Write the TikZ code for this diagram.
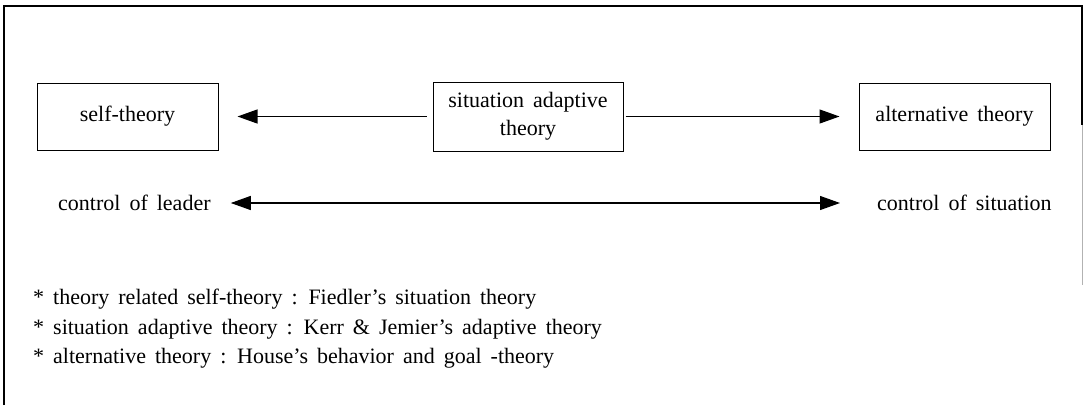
\documentclass[tikz,border=0pt]{standalone}
\usepackage{fontspec}
\setmainfont{Liberation Serif}
\usetikzlibrary{arrows.meta}
\newcommand{\mytxtfont}{\fontsize{22}{28}\selectfont\spaceskip=9pt plus 2pt minus 1pt\relax}
\begin{document}
\begin{tikzpicture}[x=1pt,y=-1pt,
  txt/.style={font=\mytxtfont, inner sep=0pt},
  tbox/.style={txt, draw, line width=1pt},
  conn/.style={line width=1.2pt, -{Triangle[length=20pt,width=14pt]}},
  biconn/.style={line width=1.2pt, {Triangle[length=20pt,width=14pt]}-{Triangle[length=20pt,width=14pt]}},
  note/.style={txt, anchor=base west}
  ]
\useasboundingbox (0,0) rectangle (1084,405);
\draw[line width=1.2pt] (4,405) -- (4,6) -- (1082,6) -- (1082,125);
\draw[gray!60, line width=0.8pt] (1082,125) -- (1082,285);
\node[tbox, minimum width=181pt, minimum height=67pt] (self) at (127.5,116.5) {self-theory};
\node[tbox, minimum width=190pt, minimum height=69pt, align=center] (sit) at (528,116.5) {situation adaptive\\theory};
\node[tbox, minimum width=191pt, minimum height=67pt] (alt) at (954.5,116.5) {alternative theory};
\draw[conn, shorten <=6pt, shorten >=19pt] (sit.west) -- (self.east);
\draw[conn, shorten <=2pt, shorten >=19pt] (sit.east) -- (alt.west);
\node[txt, anchor=west] (cl) at (58,203) {control of leader};
\node[txt, anchor=west] (cs) at (877,203) {control of situation};
\draw[biconn, shorten <=20pt, shorten >=37pt] (cl.east) -- (cs.west);
\node[note] (n1) at (33,304) {* theory related self-theory : Fiedler’s situation theory};
\node[note] (n2) at (33,334) {* situation adaptive theory : Kerr \& Jemier’s adaptive theory};
\node[note] (n3) at (33,363) {* alternative theory : House’s behavior and goal -theory};
\end{tikzpicture}
\end{document}
